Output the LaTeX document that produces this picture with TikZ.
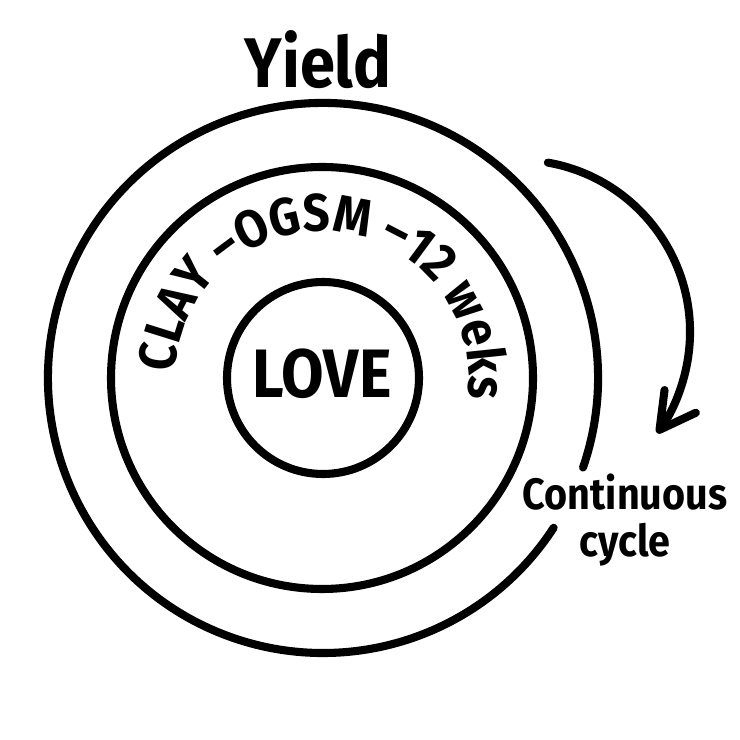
\documentclass[tikz,border=0pt]{standalone}
\usepackage{fontspec}
\setmainfont{Fira Sans}[FakeStretch=0.9]
\usetikzlibrary{arrows.meta,decorations.text}

\begin{document}
\begin{tikzpicture}[x=0.02cm, y=0.02cm, ring/.style={line width=4.6pt, line cap=round}]
    \useasboundingbox (0,0) rectangle (740,740);
    % circles
    \draw[ring] (323,362) circle (96);
    \draw[ring] (322,362) circle (211);
    \draw[ring] ([shift={(-19:275)}]323,362) arc[start angle=-19, end angle=327, radius=275];

    % cycle arrow
    \draw[ring, -{Straight Barb[length=20pt, width=22pt, line cap=round, line join=round]}]
        ([shift={(80:172)}]518,408) arc[start angle=80, end angle=-36, radius=172];

    % curved text
    \path[decorate, decoration={text along path, text align={fit to path},
        text={|\bfseries\fontsize{30}{30}\selectfont|CLAY –OGSM –12 weks}}]
        ([shift={(178:147)}]322,362) arc[start angle=178, end angle=-8, radius=147];

    % labels
    \node[anchor = center, font=\bfseries\fontsize{40}{40}\selectfont] (yield) at (318,680) {Yield};
    \node[anchor = center, font=\bfseries\fontsize{39}{39}\selectfont] (love) at (322,366) {LOVE};
    \node[anchor = center, align=center, font=\bfseries\fontsize{25}{27}\selectfont] (cycle) at (625,220) {Continuous\\cycle};
\end{tikzpicture}
\end{document}
